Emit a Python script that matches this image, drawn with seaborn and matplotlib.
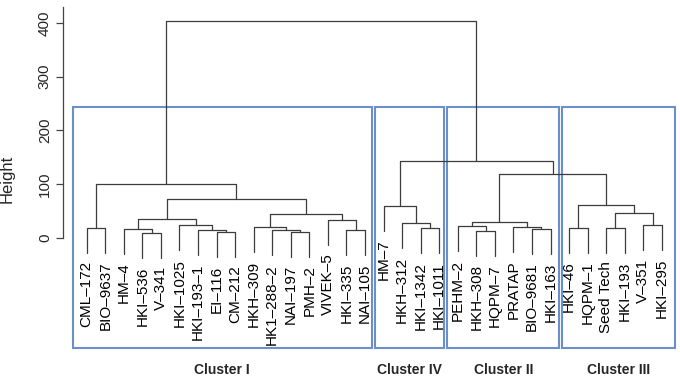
import numpy as np
import pandas as pd
import seaborn as sns
import matplotlib.pyplot as plt
from matplotlib.patches import Rectangle
from matplotlib.transforms import blended_transform_factory

# ===============================
# DATA
# ===============================
# leaves in dendrogram order (left -> right)
LEAVES = [
    "CML–172", "BIO–9637", "HM–4", "HKI–536", "V–341", "HKI–1025",
    "HKI–193–1", "EI–116", "CM–212", "HKH–309", "HK1–288–2", "NAI–197",
    "PMH–2", "VIVEK–5", "HKI–335", "NAI–105",
    "HM–7", "HKH–312", "HKI–1342", "HKI–1011",
    "PEHM–2", "HKH–308", "HQPM–7", "PRATAP", "BIO–9681", "HKI–163",
    "HKI–46", "HQPM–1", "Seed Tech", "HKI–193", "V–351", "HKI–295",
]

# hclust-style merge table: negative = leaf number, positive = earlier merge row
MERGE_LEFT = [-4, -8, -12, -22, -11, -15, -7, -3, -25, -19,
              -1, -27, -29, -10, -24, -21, -6, -31, -18, 16,
              -14, 8, 14, 13, -17, 12, 22, 11, 20, 25, 28]
MERGE_RIGHT = [-5, -9, -13, -23, 3, -16, 2, 1, -26, -20,
               -2, -28, -30, 5, 9, 4, 7, -32, 10, 15,
               6, 17, 21, 18, 19, 24, 23, 27, 26, 29, 30]
MERGE_HEIGHT = [10, 11, 12, 13.5, 14, 15, 15.5, 17, 17, 18,
                19, 19, 19, 20, 21, 22, 23.5, 24, 27, 30,
                34, 35, 44, 46, 60, 61, 72.5, 100, 119, 143, 404]

CLUSTER_NAMES = ["Cluster I", "Cluster IV", "Cluster II", "Cluster III"]
CLUSTER_SIZES = [16, 4, 6, 6]

Y_TICKS = [0, 100, 200, 300, 400]

# ===============================
# LAYOUT
# ===============================
HANG = 0.115 * max(MERGE_HEIGHT)
BOX_PAD = [(0.75, 0.36), (0.46, 0.28), (0.56, 0.48), (0.36, 0.72)]
BOX_Y = (-204, 244)
LINE_COL = "#3c3c3c"
BOX_COL = "#6b8fc8"

# ===============================
# BUILD DENDROGRAM SEGMENTS
# ===============================
node_x, node_h = {}, {}
rows = []
for k, (a, b, h) in enumerate(zip(MERGE_LEFT, MERGE_RIGHT, MERGE_HEIGHT), start=1):
    ends = []
    for c in (a, b):
        if c < 0:
            ends.append((float(-c), h - HANG))
        else:
            ends.append((node_x[c], node_h[c]))
    (x1, y1), (x2, y2) = ends
    for xx, yy in [(x1, y1), (x1, h), (x2, h), (x2, y2)]:
        rows.append({"x": xx, "y": yy, "seg": k})
    node_x[k] = (x1 + x2) / 2
    node_h[k] = h

seg_df = pd.DataFrame(rows)

# leaf bottom heights (for labels)
leaf_end = {}
for a, b, h in zip(MERGE_LEFT, MERGE_RIGHT, MERGE_HEIGHT):
    for c in (a, b):
        if c < 0:
            leaf_end[-c] = h - HANG

# ===============================
# PLOT
# ===============================
sns.set_style("white")
plt.rcParams["font.family"] = ["Liberation Sans", "DejaVu Sans"]

fig = plt.figure(figsize=(6.8, 3.8), dpi=100)
ax = fig.add_axes([63 / 680, 0, 617 / 680, 376 / 380])

sns.lineplot(
    data=seg_df, x="x", y="y", units="seg", estimator=None, sort=False,
    color=LINE_COL, lw=0.9, ax=ax
)

ax.set_xlim(-0.278, 32.98)
ax.set_ylim(-264, 435)

for i, lab in enumerate(LEAVES, start=1):
    ax.text(i, leaf_end[i] - 16, lab, rotation=90, ha="center", va="top",
            fontsize=11, color="black")

# cluster boxes and names
start = 1
for name, size, (pl, pr) in zip(CLUSTER_NAMES, CLUSTER_SIZES, BOX_PAD):
    x0 = start - pl
    x1 = start + size - 1 + pr
    ax.add_patch(Rectangle((x0, BOX_Y[0]), x1 - x0, BOX_Y[1] - BOX_Y[0],
                           fill=False, ec=BOX_COL, lw=1.5, clip_on=False))
    ax.text((x0 + x1) / 2, -245, name, ha="center", va="center",
            fontsize=10, fontweight="bold")
    start += size

# axis styling (R-like)
sns.despine(ax=ax, bottom=True, right=True, top=True)
ax.spines["left"].set_bounds(0, 429)
ax.spines["left"].set_color("#444444")
ax.spines["left"].set_linewidth(0.9)
ax.set_xticks([])
ax.set_yticks(Y_TICKS)
ax.tick_params(axis="y", left=True, direction="out", length=5, width=0.9,
               color="#444444", pad=3, labelsize=11, labelrotation=90)
for t in ax.get_yticklabels():
    t.set_va("center")
ax.set_xlabel("")
ax.set_ylabel("Height", fontsize=12)
ax.yaxis.set_label_coords(-0.078, 110,
                          transform=blended_transform_factory(ax.transAxes, ax.transData))

fig.savefig("out.png", dpi=100)
